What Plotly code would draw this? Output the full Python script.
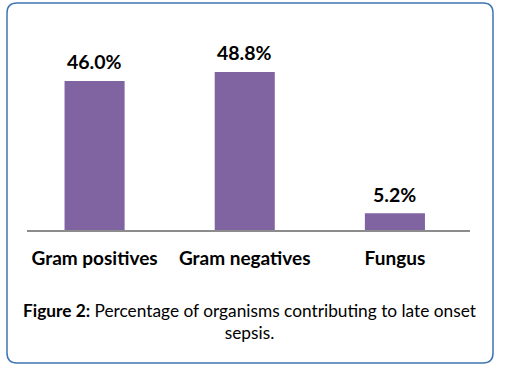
import plotly.graph_objects as go

categories = ["Gram positives", "Gram negatives", "Fungus"]
values = [46.0, 48.8, 5.2]
value_labels = ["46.0%", "48.8%", "5.2%"]
caption_bold = "Figure 2:"
caption_text = "Percentage of organisms contributing to late onset<br>sepsis."

W, H = 508, 379
FONT = "Lato, Carlito, Calibri, sans-serif"

def px_x(p):
    return p / W

def px_y(p):
    return 1 - p / H

fig = go.Figure()
fig.add_trace(go.Bar(
    x=categories, y=values,
    marker=dict(color="#8064A2", line=dict(width=0)),
    width=0.4,
    hoverinfo="skip",
))

for c, v, t in zip(categories, values, value_labels):
    fig.add_annotation(x=c, y=v, text="<b>%s</b>" % t, showarrow=False,
                       yanchor="middle", yshift=19,
                       font=dict(family=FONT, size=19.5, color="#000000"))

fig.add_annotation(xref="paper", yref="paper", x=px_x(250), y=px_y(321.5),
                   text="<b>%s</b> %s" % (caption_bold, caption_text),
                   showarrow=False, xanchor="center", yanchor="middle",
                   align="center",
                   font=dict(family=FONT, size=17.3, color="#000000"))

# rounded border box
x0, y0, x1, y1, r = 7, 3, 493, 363, 10
def P(x, y):
    return "%f,%f" % (px_x(x), px_y(y))
path = ("M %s L %s Q %s %s L %s Q %s %s L %s Q %s %s L %s Q %s %s Z" % (
    P(x0 + r, y0), P(x1 - r, y0), P(x1, y0), P(x1, y0 + r),
    P(x1, y1 - r), P(x1, y1), P(x1 - r, y1),
    P(x0 + r, y1), P(x0, y1), P(x0, y1 - r),
    P(x0, y0 + r), P(x0, y0), P(x0 + r, y0)))
fig.add_shape(type="path", xref="paper", yref="paper", path=path,
              line=dict(color="#3F75B3", width=1.5), layer="below")

base_px = 230
top_px = base_px - 60 * 3.24
fig.update_layout(
    width=W, height=H,
    margin=dict(l=0, r=0, t=0, b=0),
    paper_bgcolor="#FFFFFF", plot_bgcolor="#FFFFFF",
    showlegend=False,
    bargap=0.6,
    hovermode=False,
    xaxis=dict(domain=[px_x(27), px_x(470)], range=[-0.45, 2.5],
               showline=True, linecolor="#8C8C8C", linewidth=1.5,
               ticks="outside", ticklen=10, tickcolor="rgba(0,0,0,0)",
               tickfont=dict(family=FONT, size=19, color="#000000"),
               showgrid=False, zeroline=False, fixedrange=True,
               tickprefix="<b>", ticksuffix="</b>"),
    yaxis=dict(domain=[px_y(base_px), px_y(top_px)], range=[0, 60],
               visible=False, showgrid=False, zeroline=False, fixedrange=True),
)

fig.write_html("out.html", config={"displayModeBar": False},
               post_script="document.body.style.margin='0';")
